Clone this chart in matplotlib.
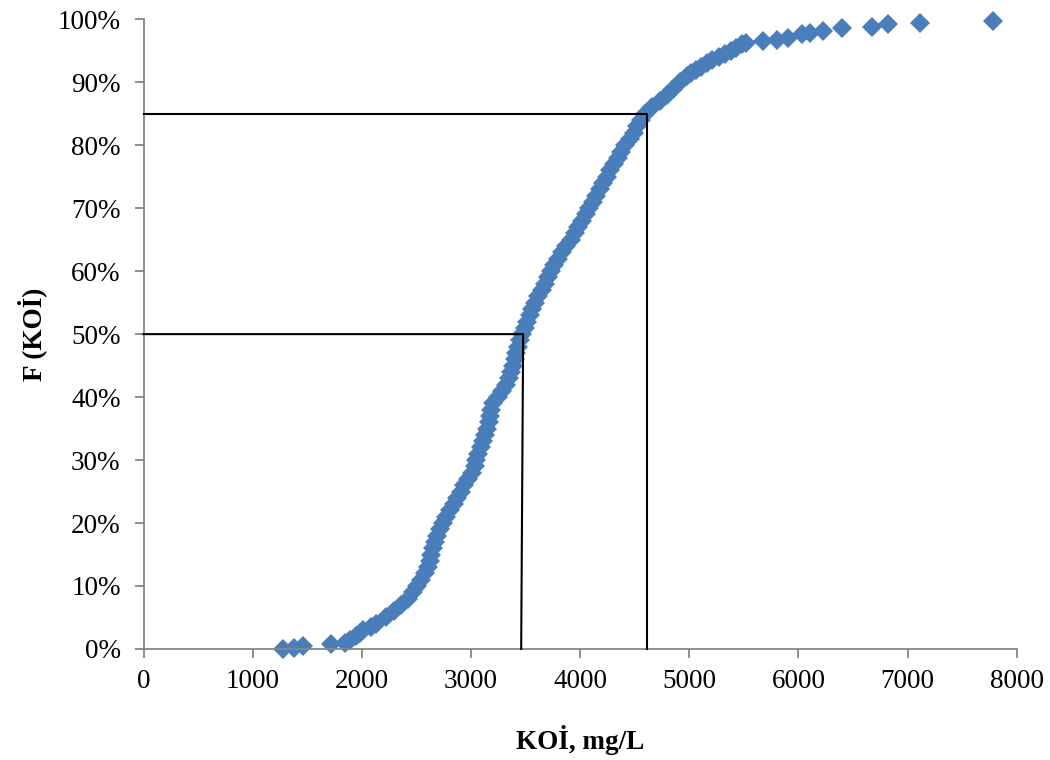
import matplotlib
matplotlib.use("Agg")
import matplotlib.pyplot as plt

koi_mg_l = [1278, 1381, 1464, 1713, 1850, 1892, 1950, 1985, 2014, 2080, 2130, 2220,
            2295, 2360, 2420, 2465, 2505, 2545, 2579, 2605, 2622, 2638, 2652, 2670,
            2692, 2720, 2748, 2775, 2805, 2840, 2872, 2905, 2935, 2975, 3010, 3035,
            3050, 3066, 3088, 3110, 3128, 3145, 3162, 3175, 3185, 3205, 3245, 3285,
            3325, 3350, 3368, 3385, 3400, 3415, 3430, 3450, 3472, 3492, 3515, 3540,
            3562, 3590, 3618, 3648, 3678, 3705, 3735, 3763, 3800, 3835, 3875, 3920,
            3955, 3985, 4020, 4055, 4085, 4115, 4148, 4178, 4210, 4244, 4276, 4310,
            4345, 4378, 4415, 4455, 4490, 4525, 4560, 4595, 4660, 4730, 4795, 4855,
            4915, 4980, 5020, 5060, 5110, 5160, 5210, 5270, 5325, 5380, 5430, 5480,
            5520, 5678, 5801, 5907, 6030, 6106, 6228, 6397, 6672, 6818, 7114, 7786]
f_koi = [0.000, 0.002, 0.005, 0.008, 0.010, 0.014, 0.020, 0.025, 0.030, 0.035, 0.040, 0.050,
         0.060, 0.070, 0.080, 0.090, 0.100, 0.110, 0.120, 0.130, 0.140, 0.150, 0.160, 0.170,
         0.180, 0.190, 0.200, 0.210, 0.220, 0.230, 0.240, 0.250, 0.260, 0.270, 0.280, 0.290,
         0.300, 0.310, 0.320, 0.330, 0.340, 0.350, 0.360, 0.370, 0.380, 0.390, 0.400, 0.410,
         0.420, 0.430, 0.440, 0.450, 0.460, 0.470, 0.480, 0.490, 0.500, 0.510, 0.520, 0.530,
         0.540, 0.550, 0.560, 0.570, 0.580, 0.590, 0.600, 0.610, 0.620, 0.630, 0.640, 0.650,
         0.660, 0.670, 0.680, 0.690, 0.700, 0.710, 0.720, 0.730, 0.740, 0.750, 0.760, 0.770,
         0.780, 0.790, 0.800, 0.810, 0.820, 0.830, 0.840, 0.850, 0.860, 0.870, 0.880, 0.890,
         0.900, 0.910, 0.915, 0.920, 0.925, 0.930, 0.935, 0.940, 0.945, 0.950, 0.955, 0.960,
         0.963, 0.966, 0.967, 0.971, 0.976, 0.978, 0.981, 0.986, 0.988, 0.992, 0.994, 0.997]

# Guide lines (median and 85th percentile)
guide50_x = [0, 3478, 3460]
guide50_y = [0.50, 0.50, 0.0]
guide85_x = [0, 4613, 4613]
guide85_y = [0.85, 0.85, 0.0]

x_ticks = [0, 1000, 2000, 3000, 4000, 5000, 6000, 7000, 8000]
y_ticks = [0.0, 0.1, 0.2, 0.3, 0.4, 0.5, 0.6, 0.7, 0.8, 0.9, 1.0]
y_tick_labels = ["0%", "10%", "20%", "30%", "40%", "50%", "60%", "70%", "80%", "90%", "100%"]

plt.rcParams['font.family'] = ['Liberation Serif', 'DejaVu Serif']

fig = plt.figure(figsize=(10.5, 7.6), dpi=100)
ax = fig.add_axes([0.1367, 0.1461, 0.9683 - 0.1367, 0.9746 - 0.1461])

ax.plot(koi_mg_l, f_koi, linestyle='none', marker='D', markersize=10,
        color='#4a7ebb', markeredgewidth=0, clip_on=False, zorder=2)
ax.plot(guide50_x, guide50_y, color='black', lw=1.5, zorder=3, clip_on=False)
ax.plot(guide85_x, guide85_y, color='black', lw=1.5, zorder=3, clip_on=False)

ax.set_xlim(0, 8000)
ax.set_ylim(0, 1.0)
ax.set_xticks(x_ticks)
ax.set_xticklabels([str(t) for t in x_ticks])
ax.set_yticks(y_ticks)
ax.set_yticklabels(y_tick_labels)

for s in ['top', 'right']:
    ax.spines[s].set_visible(False)
for s in ['left', 'bottom']:
    ax.spines[s].set_color('#868686')
    ax.spines[s].set_linewidth(1.3)

ax.tick_params(axis='both', direction='out', length=6.5, width=1.3, color='#868686',
               labelsize=19.5, labelcolor='black')
ax.tick_params(axis='x', pad=8)
ax.tick_params(axis='y', pad=10)

ax.set_xlabel('KOİ, mg/L', fontsize=19.5, fontweight='bold', va='center')
ax.xaxis.set_label_coords(0.5, -0.1445)
ax.set_ylabel('F (KOİ)', fontsize=19.5, fontweight='bold', va='center')
ax.yaxis.set_label_coords(-0.1277, 0.5)

fig.savefig('out.png', dpi=100)
